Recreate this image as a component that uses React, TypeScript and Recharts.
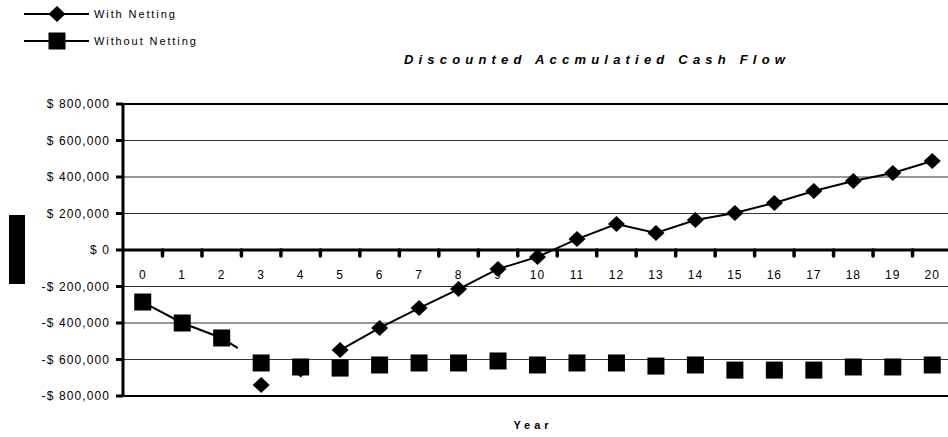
import { CartesianGrid, Line, LineChart, ReferenceLine, XAxis, YAxis } from "recharts";

const YEARS = [0, 1, 2, 3, 4, 5, 6, 7, 8, 9, 10, 11, 12, 13, 14, 15, 16, 17, 18, 19, 20];

const WITH_NETTING = [
  -285000, -400000, -482000, -740000, -655000, -548000, -427000, -318000, -214000, -104000, -38000,
  60000, 142000, 93000, 164000, 203000, 258000, 323000, 378000, 422000, 488000
];

const WITHOUT_NETTING = [
  -285000, -400000, -482000, -619000, -641000, -647000, -630000, -619000, -619000, -608000, -630000,
  -619000, -619000, -636000, -630000, -658000, -658000, -658000, -641000, -641000, -630000
];

// the with-netting line is only drawn from year 5 on in the original
const WITH_LINE_FROM = 5;

const Y_TICKS = [800000, 600000, 400000, 200000, 0, -200000, -400000, -600000, -800000];

const data = YEARS.map((year, i) => ({
  year,
  withNetting: WITH_NETTING[i],
  withLine: i >= WITH_LINE_FROM ? WITH_NETTING[i] : null,
  withoutNetting: WITHOUT_NETTING[i]
}));

const CHART_W = 960;
const CHART_H = 437;
const X_AXIS_H = 30;
const MARGIN = { top: 104, right: 8, bottom: 41 - X_AXIS_H, left: 0 };
const Y_AXIS_W = 123;
const PLOT_W = CHART_W - MARGIN.left - MARGIN.right - Y_AXIS_W;
const PLOT_H = CHART_H - MARGIN.top - MARGIN.bottom - X_AXIS_H;
const BAND = PLOT_W / YEARS.length;
const ZERO_Y = MARGIN.top + PLOT_H / 2;
const FONT = "'Liberation Sans', Arial, sans-serif";

const money = (v: number) => (v < 0 ? `-$ ${Math.abs(v).toLocaleString("en-US")}` : `$ ${v.toLocaleString("en-US")}`);

function Diamond(props: any) {
  const { cx, cy } = props;
  if (cx == null || cy == null) return null;
  return (
    <polygon
      points={`${cx},${cy - 8} ${cx + 8.5},${cy} ${cx},${cy + 8} ${cx - 8.5},${cy}`}
      fill="#000"
    />
  );
}

function Square(props: any) {
  const { cx, cy } = props;
  if (cx == null || cy == null) return null;
  return <rect x={cx - 8.5} y={cy - 8.5} width={17} height={17} fill="#000" />;
}

function YearTick(props: any) {
  const { x, payload } = props;
  return (
    <g>
      <text x={x} y={ZERO_Y + 29} textAnchor="middle" fontSize={12} fontFamily={FONT} fill="#000" letterSpacing={1}>
        {payload.value}
      </text>
      <line
        x1={x + BAND / 2}
        x2={x + BAND / 2}
        y1={ZERO_Y}
        y2={ZERO_Y + 6}
        stroke="#000"
        strokeWidth={3.5}
        strokeLinecap="round"
      />
    </g>
  );
}

function LegendRow({ y, label, marker }: { y: number; label: string; marker: "diamond" | "square" }) {
  return (
    <g>
      <line x1={24} x2={89} y1={y} y2={y} stroke="#000" strokeWidth={2} />
      {marker === "diamond" ? <Diamond cx={57} cy={y} /> : <Square cx={57} cy={y} />}
      <text x={94} y={y + 4} fontSize={11} fontFamily={FONT} fill="#000" letterSpacing={1.9}>
        {label}
      </text>
    </g>
  );
}

export default function App() {
  return (
    <div style={{ position: "absolute", left: 0, top: 0, width: 948, height: 437, overflow: "hidden", background: "#fff" }}>
      <LineChart width={CHART_W} height={CHART_H} data={data} margin={MARGIN}>
        <CartesianGrid horizontal vertical={false} stroke="#333" strokeWidth={1} />
        <ReferenceLine y={800000} stroke="#000" strokeWidth={2} />
        <ReferenceLine y={-800000} stroke="#000" strokeWidth={2} />
        <ReferenceLine y={0} stroke="#000" strokeWidth={3} />
        <XAxis
          dataKey="year"
          type="category"
          axisLine={false}
          tickLine={false}
          height={X_AXIS_H}
          interval={0}
          padding={{ left: BAND / 2, right: BAND / 2 }}
          tick={<YearTick />}
        />
        <YAxis
          type="number"
          domain={[-800000, 800000]}
          ticks={Y_TICKS}
          interval={0}
          width={Y_AXIS_W}
          tickFormatter={money}
          tick={{ fontSize: 12, fill: "#000", fontFamily: FONT, letterSpacing: 1.1 }}
          tickSize={7}
          tickMargin={6}
          tickLine={{ stroke: "#000", strokeWidth: 3 }}
          axisLine={{ stroke: "#000", strokeWidth: 3 }}
          label={{
            content: () => <rect x={9} y={215} width={16} height={69} fill="#000" />
          }}
        />
        <Line
          dataKey="withLine"
          stroke="#000"
          strokeWidth={2}
          dot={false}
          activeDot={false}
          isAnimationActive={false}
          connectNulls={false}
        />
        <Line
          dataKey="withNetting"
          stroke="none"
          dot={(p: any) => <Diamond key={`d${p.index}`} {...p} />}
          activeDot={false}
          isAnimationActive={false}
        />
        <Line
          dataKey="withoutNetting"
          stroke="#000"
          strokeWidth={2}
          strokeDasharray="106 4000"
          dot={(p: any) => <Square key={`s${p.index}`} {...p} />}
          activeDot={false}
          isAnimationActive={false}
        />
      </LineChart>
      <svg width={948} height={437} style={{ position: "absolute", left: 0, top: 0, pointerEvents: "none" }}>
        <LegendRow y={14} label="With Netting" marker="diamond" />
        <LegendRow y={41} label="Without Netting" marker="square" />
        <text
          x={597}
          y={64}
          textAnchor="middle"
          fontSize={13}
          fontWeight="bold"
          fontStyle="italic"
          fontFamily={FONT}
          letterSpacing={5.2}
          fill="#000"
        >
          Discounted  Accmulatied  Cash Flow
        </text>
        <text
          x={533}
          y={429}
          textAnchor="middle"
          fontSize={11}
          fontWeight="bold"
          fontFamily={FONT}
          letterSpacing={4}
          fill="#000"
        >
          Year
        </text>
      </svg>
    </div>
  );
}
